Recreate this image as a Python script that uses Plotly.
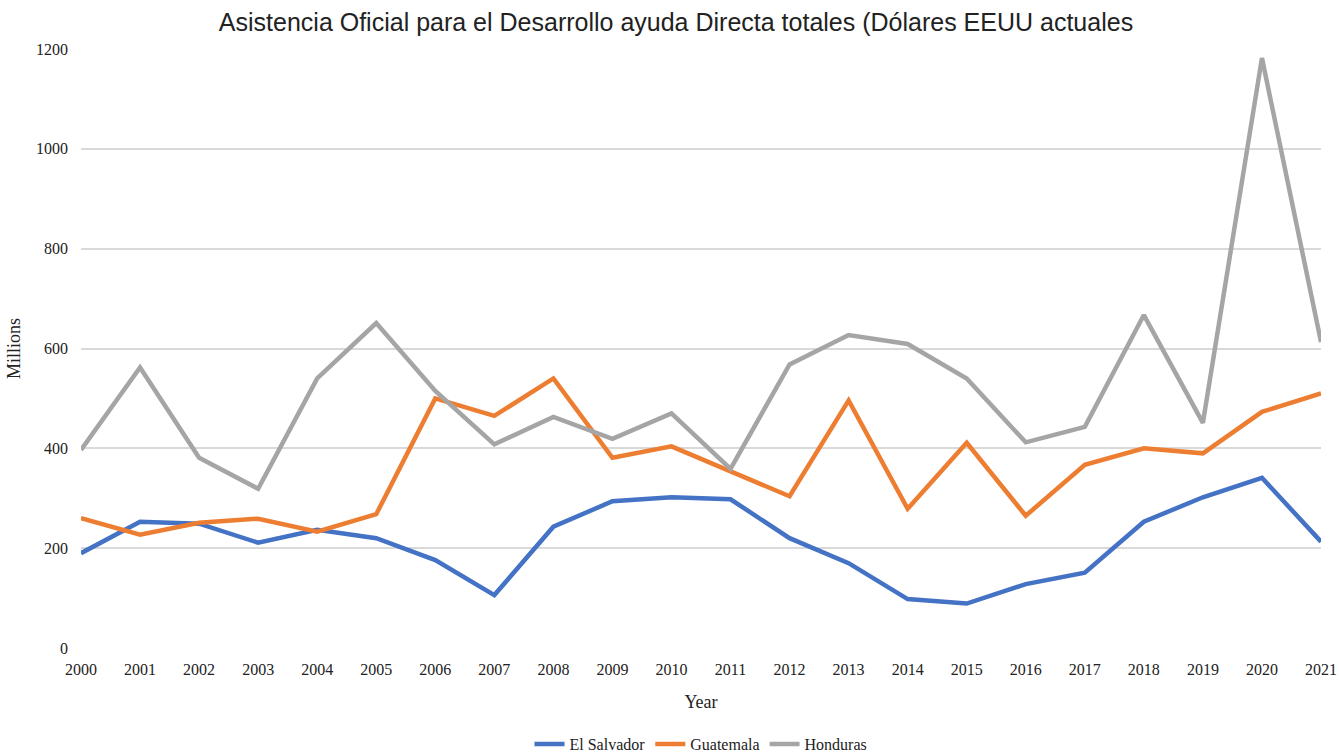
import plotly.graph_objects as go

years = list(range(2000, 2022))
el_salvador = [190, 253, 249, 211, 237, 220, 176, 106, 243, 294, 302, 298, 220, 170, 98, 89, 128, 151, 253, 302, 341, 213]
guatemala = [260, 227, 251, 259, 233, 268, 500, 465, 540, 381, 404, 354, 304, 496, 279, 411, 265, 367, 400, 390, 473, 510]
honduras = [397, 562, 381, 319, 540, 651, 515, 408, 463, 419, 470, 359, 568, 627, 609, 540, 412, 443, 667, 451, 1182, 613]

series = [("El Salvador", el_salvador, "#4472C4"),
          ("Guatemala", guatemala, "#ED7D31"),
          ("Honduras", honduras, "#A5A5A5")]

fig = go.Figure()
for name, vals, color in series:
    fig.add_trace(go.Scatter(x=years, y=vals, mode="lines", name=name,
                             line=dict(color=color, width=4.5)))

serif = "Liberation Serif, Times New Roman, serif"
W, H = 1339, 754
fig.update_layout(
    width=W, height=H,
    margin=dict(l=81, r=18, t=49, b=106),
    paper_bgcolor="white", plot_bgcolor="white",
    title=dict(text="Asistencia Oficial para el Desarrollo ayuda Directa totales (Dólares EEUU actuales",
               x=676 / W, xanchor="center", y=1 - 22 / H, yanchor="middle",
               font=dict(family="Liberation Sans, Arial, sans-serif", size=25, color="#222")),
    legend=dict(orientation="h", x=0.5, xanchor="center", yref="container", y=10 / H, yanchor="middle",
                font=dict(family=serif, size=16, color="#222"), itemwidth=30,
                tracegroupgap=0),
    showlegend=True,
)
fig.update_xaxes(range=[2000, 2021], tickmode="array", tickvals=years,
                 ticktext=[str(y) for y in years], showgrid=False, zeroline=False,
                 showline=False, tickfont=dict(family=serif, size=16, color="#222"),
                 title=dict(text="Year", font=dict(family=serif, size=18, color="#222"), standoff=18),
                 ticks="", ticklabelstandoff=10, automargin=False, ticklabeloverflow="allow")
fig.update_yaxes(range=[0, 1200], tickvals=[0, 200, 400, 600, 800, 1000, 1200],
                 showgrid=True, gridcolor="#D9D9D9", gridwidth=1.5, zeroline=False,
                 showline=False, tickfont=dict(family=serif, size=16, color="#222"),
                 title=dict(text="Millions", font=dict(family=serif, size=18, color="#222"), standoff=10),
                 ticks="", ticklabelstandoff=12, automargin=False)
fig.write_html("out.html", config={"displayModeBar": False},
               post_script="document.body.style.margin='0';document.body.style.overflow='hidden';")
